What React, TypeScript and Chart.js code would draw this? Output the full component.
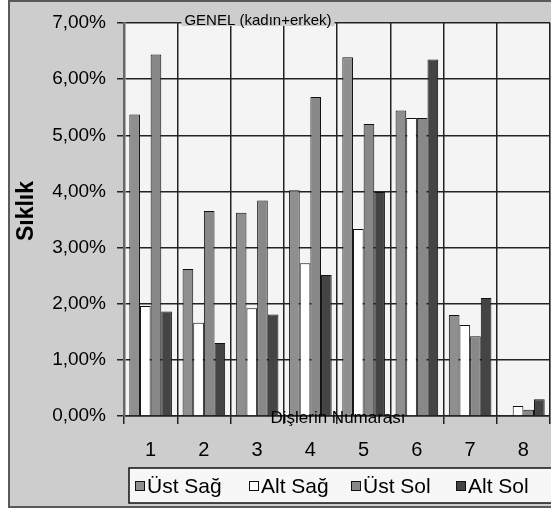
import React, { useEffect, useRef } from 'react';
import { Chart, registerables } from 'chart.js';

Chart.register(...registerables);

const categories = ['1', '2', '3', '4', '5', '6', '7', '8'];
const seriesNames = ['Üst Sağ', 'Alt Sağ', 'Üst Sol', 'Alt Sol'];
const ustSag = [5.37, 2.62, 3.62, 4.02, 6.39, 5.44, 1.8, 0.02];
const altSag = [1.96, 1.66, 1.92, 2.72, 3.33, 5.31, 1.62, 0.18];
const ustSol = [6.44, 3.65, 3.84, 5.68, 5.2, 5.31, 1.42, 0.11];
const altSol = [1.86, 1.3, 1.81, 2.51, 3.99, 6.35, 2.1, 0.3];
const yMin = 0;
const yMax = 7;
const yStep = 1;
const chartTitle = 'GENEL (kadın+erkek)';
const xTitle = 'Dişlerin Numarası';
const yTitle = 'Sıklık';

const FONT = '"Liberation Sans", Arial, sans-serif';
const OUTER = '#cdcdcd';
const PLOT = '#f4f4f4';
const colors = ['#8f8f8f', '#ffffff', '#888888', '#444444'];

const decor = {
  id: 'decor',
  beforeDraw(chart: any) {
    const { ctx, width, height, chartArea: a } = chart;
    ctx.save();
    ctx.fillStyle = OUTER;
    ctx.fillRect(0, 0, width, height);
    ctx.fillStyle = PLOT;
    ctx.fillRect(a.left, a.top, a.right - a.left, a.bottom - a.top);
    ctx.restore();
  },
  afterDraw(chart: any) {
    const { ctx, width, height } = chart;
    ctx.save();
    // frame
    ctx.strokeStyle = '#5a5a5a';
    ctx.lineWidth = 2;
    ctx.strokeRect(1, 1, width - 2, height - 2);

    // chart title with background
    ctx.font = `15px ${FONT}`;
    const tw = ctx.measureText(chartTitle).width;
    const tcx = 250;
    const tcy = 21;
    ctx.fillStyle = OUTER;
    ctx.fillRect(tcx - tw / 2 - 3, 12, tw + 6, 14);
    ctx.fillStyle = '#000';
    ctx.textAlign = 'center';
    ctx.textBaseline = 'middle';
    ctx.fillText(chartTitle, tcx, tcy);

    // x title
    ctx.font = `17px ${FONT}`;
    ctx.fillText(xTitle, 330, 418);

    // y title
    ctx.save();
    ctx.translate(19, 211);
    ctx.rotate(-Math.PI / 2);
    ctx.font = `bold 23px ${FONT}`;
    ctx.fillText(yTitle, 0, 0);
    ctx.restore();

    // legend
    const lx = 121;
    const ly = 468;
    ctx.fillStyle = '#f7f7f7';
    ctx.fillRect(lx, ly, width - lx + 10, 35);
    ctx.strokeStyle = '#111';
    ctx.lineWidth = 1.5;
    ctx.strokeRect(lx, ly, width - lx + 10, 35);
    const itemX = [127, 241, 343, 448];
    ctx.font = `21px ${FONT}`;
    ctx.textAlign = 'left';
    chart.data.datasets.forEach((ds: any, i: number) => {
      const sx = itemX[i];
      const sy = 486;
      ctx.fillStyle = ds.backgroundColor;
      ctx.fillRect(sx, sy - 5, 9, 9);
      ctx.strokeStyle = '#111';
      ctx.lineWidth = 1;
      ctx.strokeRect(sx + 0.5, sy - 4.5, 9, 9);
      ctx.fillStyle = '#000';
      ctx.fillText(ds.label, sx + 12, sy + 1);
    });
    ctx.restore();
  },
};

export default function App() {
  const ref = useRef<HTMLCanvasElement>(null);
  useEffect(() => {
    if (!ref.current) return;
    const series = [ustSag, altSag, ustSol, altSol];
    const chart = new Chart(ref.current, {
      type: 'bar',
      data: {
        labels: categories,
        datasets: series.map((d, i) => ({
          label: seriesNames[i],
          data: d,
          backgroundColor: colors[i],
          borderColor: '#111',
          borderWidth: 1,
          categoryPercentage: 0.8,
          barPercentage: 1.0,
        })),
      },
      options: {
        animation: false,
        responsive: false,
        devicePixelRatio: 1,
        layout: { padding: { top: 23, right: 18, bottom: 0, left: 0 } },
        plugins: {
          legend: { display: false },
          title: { display: false },
          tooltip: { enabled: false },
        },
        scales: {
          x: {
            grid: { color: '#222', lineWidth: 1.5, tickLength: 8, offset: true },
            border: { color: '#222', width: 1.5 },
            ticks: { color: '#000', font: { family: FONT, size: 20 }, padding: 14 },
            afterFit(scale: any) {
              scale.height = 92;
            },
          },
          y: {
            min: yMin,
            max: yMax,
            ticks: {
              stepSize: yStep,
              color: '#000',
              font: { family: FONT, size: 19 },
              padding: 11,
              callback: (v: any) => Number(v).toFixed(2).replace('.', ',') + '%',
            },
            grid: { color: '#222', lineWidth: 1.5, tickLength: 7 },
            border: { color: '#666', width: 2.5 },
            afterFit(scale: any) {
              scale.width = 116;
            },
          },
        },
      },
      plugins: [decor],
    });
    return () => chart.destroy();
  }, []);
  return (
    <div style={{ position: 'absolute', left: 8, top: 0, width: 543, height: 511, overflow: 'hidden' }}>
      <canvas ref={ref} width={560} height={508} style={{ display: 'block', width: 560, height: 508 }} />
    </div>
  );
}
